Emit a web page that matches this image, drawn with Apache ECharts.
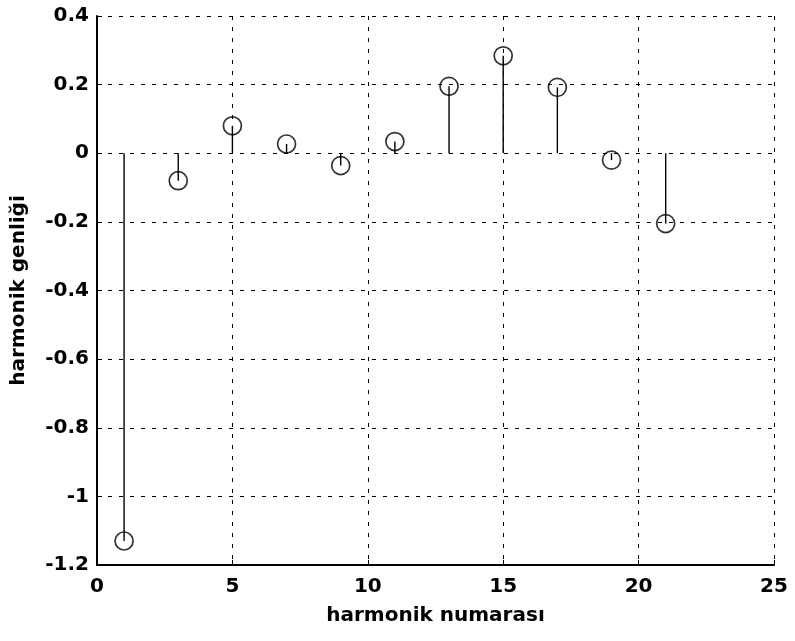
<!DOCTYPE html>
<html><head><meta charset="utf-8">
<script src="https://cdn.jsdelivr.net/npm/echarts@6/dist/echarts.min.js"></script>
<style>html,body{margin:0;padding:0;background:#fff}#c{width:795px;height:641px}</style>
</head><body><div id="c"></div>
<script>
var harmonics = [1, 3, 5, 7, 9, 11, 13, 15, 17, 19, 21];
var amplitudes = [-1.13, -0.08, 0.08, 0.027, -0.036, 0.034, 0.195, 0.284, 0.192, -0.02, -0.205];
var xTicks = [0, 5, 10, 15, 20, 25];
var yTicks = [-1.2, -1, -0.8, -0.6, -0.4, -0.2, 0, 0.2, 0.4];

var pts = harmonics.map(function (h, i) { return [h, amplitudes[i]]; });
var font = 'DejaVu Sans, Liberation Sans, Arial, sans-serif';
var chart = echarts.init(document.getElementById('c'));
chart.setOption({
  animation: false,
  backgroundColor: '#fff',
  grid: { left: 97, right: 21, top: 16, bottom: 76, show: false, containLabel: false, outerBoundsMode: 'none' },
  xAxis: {
    type: 'value', min: xTicks[0], max: xTicks[xTicks.length - 1], interval: 5,
    name: 'harmonik numarası', nameLocation: 'middle', nameGap: 41,
    nameTextStyle: { fontFamily: font, fontWeight: 'bold', fontSize: 20, color: '#000' },
    axisLine: { show: true, onZero: false, lineStyle: { color: '#000', width: 2 } },
    axisTick: { show: true, inside: true, length: 5, lineStyle: { color: '#000' } },
    axisLabel: { fontFamily: font, fontWeight: 'bold', fontSize: 20, color: '#000', margin: 12 },
    splitLine: { show: true, lineStyle: { color: '#000', type: [4, 7], width: 1 } },
    z: 5
  },
  yAxis: {
    type: 'value', min: yTicks[0], max: yTicks[yTicks.length - 1], interval: 0.2,
    name: 'harmonik genliği', nameLocation: 'middle', nameGap: 68,
    nameTextStyle: { fontFamily: font, fontWeight: 'bold', fontSize: 20, color: '#000' },
    axisLine: { show: true, onZero: false, lineStyle: { color: '#000', width: 2 } },
    axisTick: { show: true, inside: true, length: 5, lineStyle: { color: '#000' } },
    axisLabel: { fontFamily: font, fontWeight: 'bold', fontSize: 20, color: '#000', margin: 8,
      formatter: function (v) { return String(Math.round(v * 10) / 10); } },
    splitLine: { show: true, lineStyle: { color: '#000', type: [4, 7], width: 1 } },
    z: 5
  },
  series: [
    {
      type: 'custom',
      data: pts,
      renderItem: function (params, api) {
        var p0 = api.coord([api.value(0), 0]);
        var p1 = api.coord([api.value(0), api.value(1)]);
        return { type: 'line', shape: { x1: p0[0], y1: p0[1], x2: p1[0], y2: p1[1] },
          style: { stroke: '#000', lineWidth: 1.4 } };
      },
      z: 3
    },
    {
      type: 'scatter',
      data: pts,
      symbol: 'circle',
      symbolSize: 18,
      itemStyle: { color: 'rgba(0,0,0,0)', borderColor: '#000', borderWidth: 1.7 },
      z: 4
    }
  ]
});
</script></body></html>
